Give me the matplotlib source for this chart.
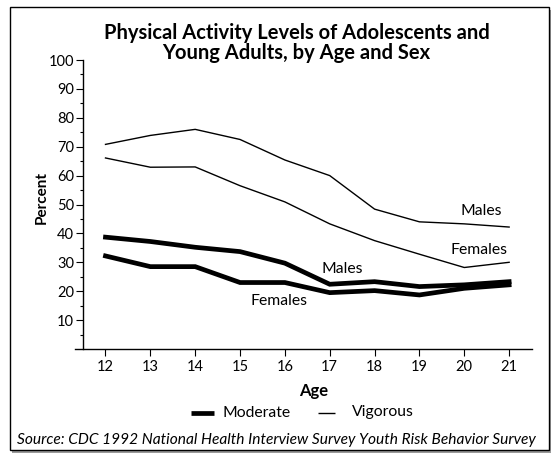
import matplotlib
matplotlib.use("Agg")
import matplotlib.pyplot as plt
from matplotlib.patches import Rectangle
from matplotlib.lines import Line2D

ages = [12, 13, 14, 15, 16, 17, 18, 19, 20, 21]
vig_males = [70.8, 73.9, 76.0, 72.5, 65.4, 60.0, 48.4, 44.0, 43.3, 42.2]
vig_females = [66.1, 62.9, 63.0, 56.5, 50.9, 43.3, 37.5, 32.8, 28.2, 30.0]
mod_males = [38.7, 37.2, 35.2, 33.7, 29.7, 22.4, 23.3, 21.6, 22.2, 23.3]
mod_females = [32.2, 28.5, 28.5, 23.0, 23.0, 19.5, 20.2, 18.7, 21.0, 22.2]
yticks = [10, 20, 30, 40, 50, 60, 70, 80, 90, 100]

title1 = "Physical Activity Levels of Adolescents and"
title2 = "Young Adults, by Age and Sex"
source = "Source: CDC 1992 National Health Interview Survey Youth Risk Behavior Survey"

plt.rcParams['font.family'] = ['Lato', 'DejaVu Sans']

W, H = 551, 453
fig = plt.figure(figsize=(W / 100, H / 100), dpi=100)
fig.patch.set_facecolor('white')

def fx(x):
    return x / W

def fy(y):
    return 1 - y / H

# frame with shadow
fig.patches.append(Rectangle((fx(12), fy(453)), fx(539), (453 - 10) / H,
                             transform=fig.transFigure, facecolor='#9a9a9a',
                             edgecolor='none', zorder=0))
fig.patches.append(Rectangle((fx(10), fy(450)), fx(538.5), (450 - 7) / H,
                             transform=fig.transFigure, facecolor='white',
                             edgecolor='black', linewidth=1.0, zorder=1))

x_left_px, x_right_px = 75, 532
y_top_px, y_bot_px = 60, 349
ax = fig.add_axes([fx(x_left_px), fy(y_bot_px), (x_right_px - x_left_px) / W,
                   (y_bot_px - y_top_px) / H])
ax.set_zorder(2)
ax.patch.set_alpha(0)
ax.set_xlim(11.32, 21.51)
ax.set_ylim(0, 100)

ax.plot(ages, vig_males, color='black', lw=1.0, clip_on=False)
ax.plot(ages, vig_females, color='black', lw=1.0, clip_on=False)
ax.plot(ages, mod_males, color='black', lw=3.4, clip_on=False, solid_joinstyle='miter')
ax.plot(ages, mod_females, color='black', lw=3.4, clip_on=False, solid_joinstyle='miter')

ax.spines['top'].set_visible(False)
ax.spines['right'].set_visible(False)
ax.spines['left'].set_position(('data', 11.5))
ax.spines['left'].set_bounds(0, 100)
for s in ('left', 'bottom'):
    ax.spines[s].set_linewidth(1.0)

ax.set_xticks(ages)
ax.set_xticklabels([str(a) for a in ages])
ax.set_yticks(yticks)
ax.set_yticklabels([str(v) for v in yticks])
ax.set_yticks([5 + 10 * i for i in range(10)], minor=True)
ax.tick_params(axis='x', direction='out', length=5, width=0.8, pad=3, labelsize=10.5)
ax.tick_params(axis='y', which='major', direction='out', length=5, width=0.8, pad=1.5, labelsize=10.5)
ax.tick_params(axis='y', which='minor', direction='out', length=2.5, width=0.8)

lab_fs = 11.3
ax.text(20.37, 47.6, "Males", ha='center', va='center', fontsize=lab_fs)
ax.text(20.33, 34.1, "Females", ha='center', va='center', fontsize=lab_fs)
ax.text(17.29, 27.7, "Males", ha='center', va='center', fontsize=lab_fs)
ax.text(15.86, 16.6, "Females", ha='center', va='center', fontsize=lab_fs)

fig.text(fx(296.5), fy(39), title1, ha='center', va='baseline', fontsize=14.5,
         fontweight='bold')
fig.text(fx(296.5), fy(59), title2, ha='center', va='baseline', fontsize=14.5,
         fontweight='bold')
fig.text(fx(42), fy(197), "Percent", rotation=90, ha='center', va='center',
         fontsize=11, fontweight='bold')
fig.text(fx(314), fy(391), "Age", ha='center', va='center', fontsize=12,
         fontweight='bold')

# legend
fig.lines.append(Line2D([fx(191), fx(214)], [fy(413), fy(413)], color='black',
                        lw=3.4, transform=fig.transFigure, solid_capstyle='butt'))
fig.text(fx(223), fy(413), "Moderate", ha='left', va='center', fontsize=lab_fs)
fig.lines.append(Line2D([fx(318), fx(335)], [fy(413), fy(413)], color='black',
                        lw=1.0, transform=fig.transFigure, solid_capstyle='butt'))
fig.text(fx(352), fy(412), "Vigorous", ha='left', va='center', fontsize=lab_fs)

fig.text(fx(276), fy(440), source, ha='center', va='center', fontsize=11.2,
         fontstyle='italic')

fig.savefig("out.png", dpi=100, facecolor='white')
